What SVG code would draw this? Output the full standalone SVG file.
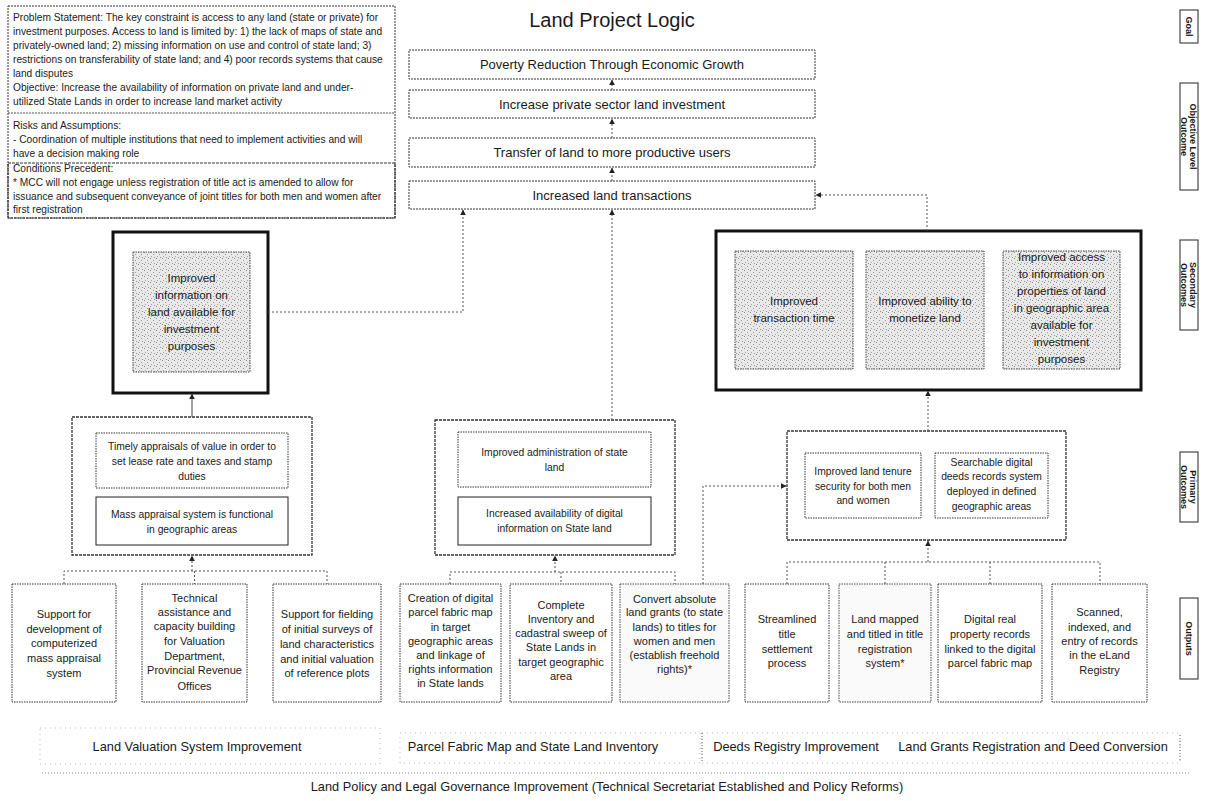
<svg xmlns="http://www.w3.org/2000/svg" width="1210" height="801" viewBox="0 0 1210 801">
<defs>
<style>
text{font-family:"Liberation Sans",Arial,sans-serif;fill:#1a1a1a}
.ps{font-size:10.2px}
.gt{font-size:13px;text-anchor:middle}
.title{font-size:20px;text-anchor:middle}
.sec{font-size:11.5px;text-anchor:middle}
.pri{font-size:10.3px;text-anchor:middle}
.out{font-size:11px;text-anchor:middle}
.prog{font-size:12.8px;text-anchor:middle}
.side{font-size:9px;text-anchor:middle;font-weight:bold}
.dbox{fill:#fff;stroke:#333;stroke-width:1;stroke-dasharray:2 1}
.obox{fill:#fff;stroke:#333;stroke-width:1;stroke-dasharray:1.5 1}
.grp{fill:#fff;stroke:#333;stroke-width:1.3;stroke-dasharray:3 1}
.big{fill:#fff;stroke:#111;stroke-width:3}
.shade{fill:url(#stip);stroke:#444;stroke-width:1;stroke-dasharray:1.5 1}
.sbox{fill:#fff;stroke:#222;stroke-width:1}
.faint{fill:none;stroke:#aaa;stroke-width:0.8;stroke-dasharray:1 4}
.con{fill:none;stroke:#444;stroke-width:1}
.dot{fill:none;stroke:#555;stroke-width:1;stroke-dasharray:2 2}
</style>
<pattern id="stip" width="6" height="6" patternUnits="userSpaceOnUse">
<rect width="6" height="6" fill="#e9e9e9"/>
<rect x="0" y="0" width="1" height="1" fill="#8a8a8a"/>
<rect x="3" y="2" width="1" height="1" fill="#9a9a9a"/>
<rect x="1" y="4" width="1" height="1" fill="#a5a5a5"/>
<rect x="4" y="5" width="1" height="1" fill="#959595"/>
</pattern>
<marker id="arr" viewBox="0 0 10 10" refX="9" refY="5" markerWidth="6" markerHeight="6" orient="auto">
<path d="M0,0 L10,5 L0,10 z" fill="#222"/>
</marker>
</defs>
<rect width="1210" height="801" fill="#fff"/>

<g id="problem-statement">
<rect x="8" y="6" width="387" height="212" class="dbox"/>
<line x1="8" y1="113" x2="395" y2="113" stroke="#555" stroke-dasharray="2 1"/>
<rect x="8" y="163" width="387" height="55" fill="none" stroke="#333" stroke-width="1.2" stroke-dasharray="3 1"/>
<text class="ps" x="13" y="21">Problem Statement: The key constraint is access to any land (state or private) for</text>
<text class="ps" x="13" y="35">investment purposes. Access to land is limited by: 1) the lack of maps of state and</text>
<text class="ps" x="13" y="49">privately-owned land; 2) missing information on use and control of state land; 3)</text>
<text class="ps" x="13" y="63">restrictions on transferability of state land; and 4) poor records systems that cause</text>
<text class="ps" x="13" y="77">land disputes</text>
<text class="ps" x="13" y="91">Objective: Increase the availability of information on private land and under-</text>
<text class="ps" x="13" y="105">utilized State Lands in order to increase land market activity</text>
<text class="ps" x="13" y="129">Risks and Assumptions:</text>
<text class="ps" x="13" y="143">- Coordination of multiple institutions that need to implement activities and will</text>
<text class="ps" x="13" y="157">have a decision making role</text>
<text class="ps" x="13" y="172">Conditions Precedent:</text>
<text class="ps" x="13" y="186">* MCC will not engage unless registration of title act is amended to allow for</text>
<text class="ps" x="13" y="200">issuance and subsequent conveyance of joint titles for both men and women after</text>
<text class="ps" x="13" y="213">first registration</text>
</g>

<g id="title"><text class="title" x="612" y="27">Land Project Logic</text></g>

<g id="goal">
<rect x="409" y="50" width="406" height="29" class="dbox"/>
<text class="gt" x="612" y="69">Poverty Reduction Through Economic Growth</text>
</g>
<g id="obj-investment">
<rect x="409" y="90" width="406" height="28" class="dbox"/>
<text class="gt" x="612" y="109">Increase private sector land investment</text>
</g>
<g id="obj-transfer">
<rect x="409" y="138" width="406" height="29" class="dbox"/>
<text class="gt" x="612" y="157">Transfer of land to more productive users</text>
</g>
<g id="obj-transactions">
<rect x="409" y="181" width="406" height="28" class="dbox"/>
<text class="gt" x="612" y="200">Increased land transactions</text>
</g>

<g id="sec-left">
<rect x="113" y="232" width="155" height="161" class="big"/>
<rect x="133" y="252" width="117" height="120" class="shade"/>
<text class="sec" x="191.5" y="282">Improved</text>
<text class="sec" x="191.5" y="299">information on</text>
<text class="sec" x="191.5" y="316">land available for</text>
<text class="sec" x="191.5" y="333">investment</text>
<text class="sec" x="191.5" y="350">purposes</text>
</g>

<g id="sec-right">
<rect x="716" y="231" width="425" height="159" class="big"/>
<rect x="735" y="251" width="118" height="118" class="shade"/>
<text class="sec" x="794" y="305">Improved</text>
<text class="sec" x="794" y="322">transaction time</text>
<rect x="866" y="251" width="118" height="118" class="shade"/>
<text class="sec" x="925" y="305">Improved ability to</text>
<text class="sec" x="925" y="322">monetize land</text>
<rect x="1003" y="251" width="117" height="118" class="shade"/>
<text class="sec" x="1061.5" y="261">Improved access</text>
<text class="sec" x="1061.5" y="278">to information on</text>
<text class="sec" x="1061.5" y="295">properties of land</text>
<text class="sec" x="1061.5" y="312">in geographic area</text>
<text class="sec" x="1061.5" y="329">available for</text>
<text class="sec" x="1061.5" y="346">investment</text>
<text class="sec" x="1061.5" y="363">purposes</text>
</g>

<g id="pri-left">
<rect x="72" y="417" width="240" height="138" class="grp"/>
<rect x="96" y="433" width="192" height="55" class="obox"/>
<text class="pri" x="192" y="450">Timely appraisals of value in order to</text>
<text class="pri" x="192" y="465">set lease rate and taxes and stamp</text>
<text class="pri" x="192" y="480">duties</text>
<rect x="96" y="497" width="192" height="48" class="sbox"/>
<text class="pri" x="192" y="518">Mass appraisal system is functional</text>
<text class="pri" x="192" y="533">in geographic areas</text>
</g>

<g id="pri-middle">
<rect x="435" y="420" width="240" height="135" class="grp"/>
<rect x="458" y="432" width="193" height="55" class="obox"/>
<text class="pri" x="554.5" y="456">Improved administration of state</text>
<text class="pri" x="554.5" y="471">land</text>
<rect x="458" y="497" width="193" height="48" class="sbox"/>
<text class="pri" x="554.5" y="517">Increased availability of digital</text>
<text class="pri" x="554.5" y="532">information on State land</text>
</g>

<g id="pri-right">
<rect x="787" y="431" width="279" height="109" class="grp"/>
<rect x="805" y="453" width="116" height="65" class="obox"/>
<text class="pri" x="863" y="475">Improved land tenure</text>
<text class="pri" x="863" y="490">security for both men</text>
<text class="pri" x="863" y="504">and women</text>
<rect x="935" y="453" width="113" height="65" class="obox"/>
<text class="pri" x="991.5" y="466">Searchable digital</text>
<text class="pri" x="991.5" y="480">deeds records system</text>
<text class="pri" x="991.5" y="495">deployed in defined</text>
<text class="pri" x="991.5" y="510">geographic areas</text>
</g>

<g id="out-1">
<rect x="12" y="584" width="104" height="118" class="obox"/>
<text class="out" x="64" y="618">Support for</text>
<text class="out" x="64" y="633">development of</text>
<text class="out" x="64" y="647">computerized</text>
<text class="out" x="64" y="662">mass appraisal</text>
<text class="out" x="64" y="677">system</text>
</g>
<g id="out-2">
<rect x="142" y="584" width="105" height="118" class="obox"/>
<text class="out" x="194.5" y="602">Technical</text>
<text class="out" x="194.5" y="616">assistance and</text>
<text class="out" x="194.5" y="630">capacity building</text>
<text class="out" x="194.5" y="645">for Valuation</text>
<text class="out" x="194.5" y="660">Department,</text>
<text class="out" x="194.5" y="674">Provincial Revenue</text>
<text class="out" x="194.5" y="690">Offices</text>
</g>
<g id="out-3">
<rect x="273" y="584" width="108" height="118" class="obox"/>
<text class="out" x="327" y="618">Support for fielding</text>
<text class="out" x="327" y="633">of initial surveys of</text>
<text class="out" x="327" y="648">land characteristics</text>
<text class="out" x="327" y="663">and initial valuation</text>
<text class="out" x="327" y="677">of reference plots</text>
</g>
<g id="out-4">
<rect x="400" y="584" width="101" height="118" class="obox"/>
<text class="out" x="450.5" y="602">Creation of digital</text>
<text class="out" x="450.5" y="616">parcel fabric map</text>
<text class="out" x="450.5" y="631">in target</text>
<text class="out" x="450.5" y="645">geographic areas</text>
<text class="out" x="450.5" y="659">and linkage of</text>
<text class="out" x="450.5" y="673">rights information</text>
<text class="out" x="450.5" y="687">in State lands</text>
</g>
<g id="out-5">
<rect x="510" y="584" width="102" height="118" class="obox"/>
<text class="out" x="561" y="609">Complete</text>
<text class="out" x="561" y="623">Inventory and</text>
<text class="out" x="561" y="637">cadastral sweep of</text>
<text class="out" x="561" y="651">State Lands in</text>
<text class="out" x="561" y="666">target geographic</text>
<text class="out" x="561" y="680">area</text>
</g>
<g id="out-6">
<rect x="620" y="584" width="109" height="118" class="shade" style="fill:#fafafa"/>
<text class="out" x="674.5" y="603">Convert absolute</text>
<text class="out" x="674.5" y="616">land grants (to state</text>
<text class="out" x="674.5" y="631">lands) to titles for</text>
<text class="out" x="674.5" y="645">women and men</text>
<text class="out" x="674.5" y="659">(establish freehold</text>
<text class="out" x="674.5" y="673">rights)*</text>
</g>
<g id="out-7">
<rect x="745" y="584" width="84" height="118" class="obox"/>
<text class="out" x="787" y="623">Streamlined</text>
<text class="out" x="787" y="638">title</text>
<text class="out" x="787" y="653">settlement</text>
<text class="out" x="787" y="667">process</text>
</g>
<g id="out-8">
<rect x="839" y="584" width="92" height="118" class="shade" style="fill:#fafafa"/>
<text class="out" x="885" y="623">Land mapped</text>
<text class="out" x="885" y="638">and titled in title</text>
<text class="out" x="885" y="653">registration</text>
<text class="out" x="885" y="667">system*</text>
</g>
<g id="out-9">
<rect x="938" y="584" width="104" height="118" class="obox"/>
<text class="out" x="990" y="623">Digital real</text>
<text class="out" x="990" y="638">property records</text>
<text class="out" x="990" y="653">linked to the digital</text>
<text class="out" x="990" y="667">parcel fabric map</text>
</g>
<g id="out-10">
<rect x="1052" y="584" width="95" height="118" class="obox"/>
<text class="out" x="1099.5" y="616">Scanned,</text>
<text class="out" x="1099.5" y="631">indexed, and</text>
<text class="out" x="1099.5" y="645">entry of records</text>
<text class="out" x="1099.5" y="659">in the eLand</text>
<text class="out" x="1099.5" y="674">Registry</text>
</g>

<g id="programs">
<rect x="40" y="728" width="340" height="36" class="faint"/>
<rect x="400" y="733" width="300" height="30" class="faint"/>
<rect x="702" y="733" width="478" height="30" class="faint"/>
<line x1="702" y1="733" x2="702" y2="762" stroke="#666" stroke-dasharray="1 2"/>
<line x1="1180" y1="735" x2="1180" y2="760" stroke="#666" stroke-dasharray="1 2"/>
<text class="prog" x="197" y="751">Land Valuation System Improvement</text>
<text class="prog" x="533" y="751">Parcel Fabric Map and State Land Inventory</text>
<text class="prog" x="796" y="751">Deeds Registry Improvement</text>
<text class="prog" x="1033" y="751">Land Grants Registration and Deed Conversion</text>
<line x1="42" y1="773" x2="1190" y2="773" stroke="#888" stroke-dasharray="1 2"/>
<text class="prog" x="607" y="791">Land Policy and Legal Governance Improvement (Technical Secretariat Established and Policy Reforms)</text>
</g>

<g id="side-labels">
<rect x="1180" y="10" width="18" height="33" class="sbox"/>
<text class="side" transform="translate(1189,26.5) rotate(90)" y="3">Goal</text>
<rect x="1180" y="83" width="18" height="107" class="sbox"/>
<text class="side" transform="translate(1189,136.5) rotate(90)"><tspan x="0" y="-1">Objective Level</tspan><tspan x="0" y="8">Outcome</tspan></text>
<rect x="1180" y="240" width="18" height="90" class="sbox"/>
<text class="side" transform="translate(1189,285) rotate(90)"><tspan x="0" y="-1">Secondary</tspan><tspan x="0" y="8">Outcomes</tspan></text>
<rect x="1180" y="452" width="18" height="70" class="sbox"/>
<text class="side" transform="translate(1189,487) rotate(90)"><tspan x="0" y="-1">Primary</tspan><tspan x="0" y="8">Outcomes</tspan></text>
<rect x="1180" y="598" width="18" height="81" class="sbox"/>
<text class="side" transform="translate(1189,638.5) rotate(90)" y="3">Outputs</text>
</g>

<g id="connectors">
<line x1="612" y1="90" x2="612" y2="80" class="dot" marker-end="url(#arr)"/>
<line x1="612" y1="138" x2="612" y2="119" class="dot" marker-end="url(#arr)"/>
<line x1="612" y1="181" x2="612" y2="168" class="dot" marker-end="url(#arr)"/>
<polyline points="268,312 463,312 463,210" class="dot" marker-end="url(#arr)"/>
<line x1="612" y1="420" x2="612" y2="210" class="dot" marker-end="url(#arr)"/>
<polyline points="927,231 927,195 816,195" class="dot" marker-end="url(#arr)"/>
<line x1="192" y1="417" x2="192" y2="394" class="con" marker-end="url(#arr)"/>
<line x1="928" y1="431" x2="928" y2="391" class="dot" marker-end="url(#arr)"/>
<polyline points="64,584 64,571 327,571 327,584" class="dot"/>
<line x1="194.5" y1="571" x2="194.5" y2="584" class="dot"/>
<line x1="192" y1="571" x2="192" y2="556" class="dot" marker-end="url(#arr)"/>
<polyline points="450,584 450,572 675,572 675,584" class="dot"/>
<line x1="561" y1="572" x2="561" y2="584" class="dot"/>
<line x1="555" y1="572" x2="555" y2="556" class="dot" marker-end="url(#arr)"/>
<polyline points="787,584 787,562 1100,562 1100,584" class="dot"/>
<line x1="885" y1="562" x2="885" y2="584" class="dot"/>
<line x1="990" y1="562" x2="990" y2="584" class="dot"/>
<line x1="928" y1="562" x2="928" y2="541" class="dot" marker-end="url(#arr)"/>
<polyline points="703,584 703,486 786,486" class="dot" marker-end="url(#arr)"/>
</g>
</svg>
